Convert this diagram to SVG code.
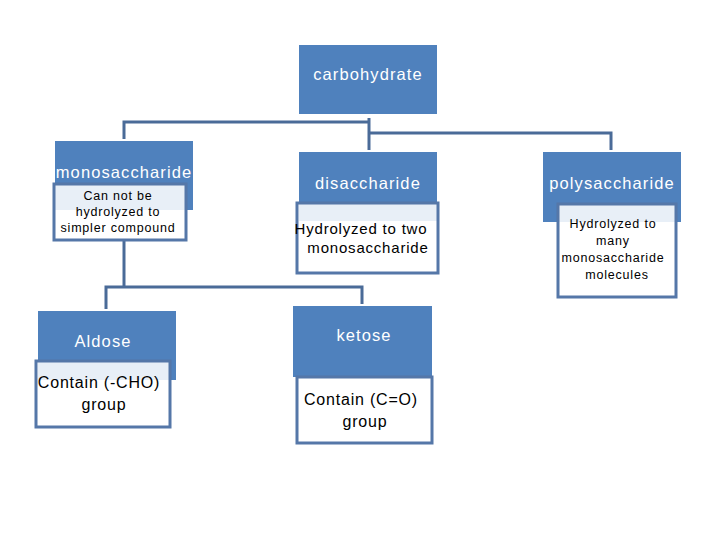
<svg xmlns="http://www.w3.org/2000/svg" width="720" height="540" viewBox="0 0 720 540">
<style>
.hd{fill:#4F81BD}
.ht{fill:#ffffff;font-family:"Liberation Sans",Arial,sans-serif;font-size:16.5px;letter-spacing:1.1px;text-anchor:middle}
.sb{fill:#ffffff;fill-opacity:0.87;stroke:#5577A8;stroke-width:3}
.st{fill:#000000;font-family:"Liberation Sans",Arial,sans-serif;text-anchor:middle;letter-spacing:0.8px}
.cn{fill:none;stroke:#4A6B98;stroke-width:3}
</style>
<rect width="720" height="540" fill="#ffffff"/>
<g id="connectors">
<polyline class="cn" points="124,139 124,122 369,122"/>
<line class="cn" x1="369" y1="118" x2="369" y2="150"/>
<polyline class="cn" points="369,133 611,133 611,150"/>
<line class="cn" x1="124" y1="240" x2="124" y2="287"/>
<polyline class="cn" points="106,309 106,287 362,287 362,304"/>
</g>
<g id="carbohydrate">
<rect class="hd" x="299" y="45" width="138" height="69"/>
<text class="ht" x="368" y="80">carbohydrate</text>
</g>
<g id="monosaccharide">
<rect class="hd" x="55" y="141" width="138" height="69"/>
<text class="ht" x="124" y="178">monosaccharide</text>
<rect class="sb" x="54" y="184" width="132" height="56"/>
<text class="st" font-size="12.5" x="118" y="200">Can not be</text>
<text class="st" font-size="12.5" x="118" y="216">hydrolyzed to</text>
<text class="st" font-size="12.5" x="118" y="232">simpler compound</text>
</g>
<g id="disaccharide">
<rect class="hd" x="299" y="152" width="138" height="69"/>
<text class="ht" x="368" y="189">disaccharide</text>
<rect class="sb" x="297" y="203" width="141" height="70"/>
<text class="st" font-size="15" x="361" y="234">Hydrolyzed to two</text>
<text class="st" font-size="15" x="368" y="253">monosaccharide</text>
</g>
<g id="polysaccharide">
<rect class="hd" x="543" y="152" width="138" height="70"/>
<text class="ht" x="612" y="189">polysaccharide</text>
<rect class="sb" x="558" y="204" width="118" height="93"/>
<text class="st" font-size="12.5" x="613" y="228">Hydrolyzed to</text>
<text class="st" font-size="12.5" x="613" y="245">many</text>
<text class="st" font-size="12.5" x="613" y="262">monosaccharide</text>
<text class="st" font-size="12.5" x="617" y="279">molecules</text>
</g>
<g id="aldose">
<rect class="hd" x="38" y="311" width="138" height="69"/>
<text class="ht" x="103" y="347">Aldose</text>
<rect class="sb" x="36" y="361" width="134" height="66"/>
<text class="st" font-size="16" x="99" y="388">Contain (-CHO)</text>
<text class="st" font-size="16" x="104" y="410">group</text>
</g>
<g id="ketose">
<rect class="hd" x="293" y="306" width="139" height="71"/>
<text class="ht" x="364" y="341">ketose</text>
<rect class="sb" x="297" y="377" width="135" height="66"/>
<text class="st" font-size="16" x="361" y="405">Contain (C=O)</text>
<text class="st" font-size="16" x="365" y="427">group</text>
</g>
</svg>
